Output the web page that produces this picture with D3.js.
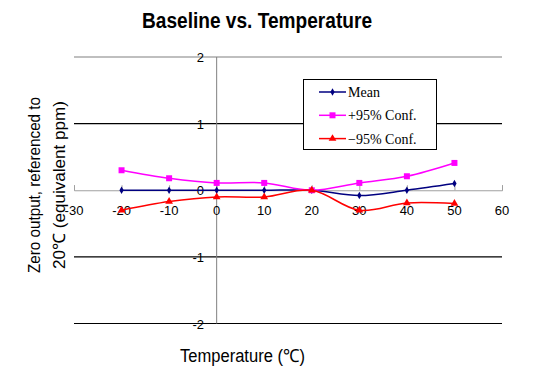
<!DOCTYPE html>
<html><head><meta charset="utf-8">
<script src="https://cdn.jsdelivr.net/npm/d3@7"></script>
<style>body{margin:0;background:#fff}svg{display:block}</style>
</head><body>
<svg id="c" width="540" height="373"></svg>
<script>
const temps = [-20, -10, 0, 10, 20, 30, 40, 50];
const meanVals = [0, 0, 0, 0, 0, -0.08, 0, 0.1];
const upperVals = [0.3, 0.18, 0.11, 0.11, 0, 0.11, 0.21, 0.41];
const lowerVals = [-0.3, -0.17, -0.1, -0.1, 0, -0.3, -0.19, -0.2];
const seriesNames = ["Mean", "+95% Conf.", "\u221295% Conf."];
const xTicks = [-30, -20, -10, 0, 10, 20, 30, 40, 50, 60];
const yTicks = [-2, -1, 0, 1, 2];

const svg = d3.select("#c");
const x = d3.scaleLinear().domain([-30, 60]).range([74, 502]);
const y = d3.scaleLinear().domain([-2, 2]).range([323.5, 57]);

// gridlines
svg.append("g").selectAll("line").data(yTicks.filter(d => d !== 0)).join("line")
  .attr("x1", x(-30)).attr("x2", x(60))
  .attr("y1", d => y(d)).attr("y2", d => y(d))
  .attr("stroke", d => d === 2 ? "#808080" : "#000").attr("stroke-width", 1.2);

// vertical axis at x=0
svg.append("line").attr("x1", x(0)).attr("x2", x(0)).attr("y1", y(2)).attr("y2", y(-2))
  .attr("stroke", "#808080").attr("stroke-width", 1);

// x axis at y=0
const xAxis = d3.axisTop(x).tickValues(xTicks).tickSize(5).tickFormat("");
const gx = svg.append("g").attr("transform", `translate(0,${y(0)})`).call(xAxis);
gx.select(".domain").attr("stroke", "#a0a0a0");
gx.selectAll(".tick line").attr("stroke", "#a0a0a0");

// x tick labels
svg.append("g").selectAll("text").data(xTicks).join("text")
  .attr("x", d => x(d)).attr("y", 215)
  .attr("text-anchor", "middle")
  .style("font-family", "Liberation Sans, Arial, sans-serif").style("font-size", "13px")
  .text(d => d);

// y tick labels
svg.append("g").selectAll("text").data(yTicks).join("text")
  .attr("x", 204).attr("y", d => y(d) + 5)
  .attr("text-anchor", "end")
  .style("font-family", "Liberation Sans, Arial, sans-serif").style("font-size", "13px")
  .text(d => d);

const series = [
  {name: seriesNames[0], vals: meanVals, color: "#000080", sym: d3.symbolDiamond, size: 16},
  {name: seriesNames[1], vals: upperVals, color: "#ff00ff", sym: d3.symbolSquare, size: 36},
  {name: seriesNames[2], vals: lowerVals, color: "#ff0000", sym: d3.symbolTriangle, size: 26}
];

const line = d3.line().x(d => x(d[0])).y(d => y(d[1])).curve(d3.curveCatmullRom.alpha(0.5));

series.forEach(s => {
  const pts = temps.map((t, i) => [t, s.vals[i]]);
  svg.append("path").datum(pts).attr("d", line)
    .attr("fill", "none").attr("stroke", s.color).attr("stroke-width", 1.5);
  svg.append("g").selectAll("path").data(pts).join("path")
    .attr("d", d3.symbol().type(s.sym).size(s.size))
    .attr("transform", d => `translate(${x(d[0])},${y(d[1])})`)
    .attr("fill", s.color);
});

// legend
const lg = svg.append("g");
lg.append("rect").attr("x", 303.5).attr("y", 79.5).attr("width", 133).attr("height", 70)
  .attr("fill", "#fff").attr("stroke", "#000").attr("stroke-width", 1);
series.forEach((s, i) => {
  const ly = 92 + i * 23.3;
  lg.append("line").attr("x1", 319).attr("x2", 346).attr("y1", ly).attr("y2", ly)
    .attr("stroke", s.color).attr("stroke-width", 1.5);
  lg.append("path").attr("d", d3.symbol().type(s.sym).size(s.size))
    .attr("transform", `translate(332.5,${ly})`).attr("fill", s.color);
  lg.append("text").attr("x", 348).attr("y", ly + 5)
    .style("font-family", "Liberation Serif, 'DejaVu Serif', serif").style("font-size", "14px")
    .text(s.name);
});

const narrow = "'Liberation Sans Narrow', 'Arial Narrow', 'Liberation Sans', sans-serif";

// title
svg.append("text").attr("x", 142).attr("y", 28)
  .attr("textLength", 230).attr("lengthAdjust", "spacingAndGlyphs")
  .style("font-family", narrow)
  .style("font-weight", "bold").style("font-size", "22px")
  .text("Baseline vs. Temperature");

// x title
svg.append("text").attr("x", 180).attr("y", 362)
  .attr("textLength", 125).attr("lengthAdjust", "spacingAndGlyphs")
  .style("font-family", narrow)
  .style("font-size", "18px")
  .text("Temperature (\u2103)");

// y title
const yt = svg.append("text").attr("transform", "translate(0,185) rotate(-90)")
  .style("font-family", narrow)
  .style("font-size", "17px");
yt.append("tspan").attr("x", -88).attr("y", 40)
  .attr("textLength", 176).attr("lengthAdjust", "spacingAndGlyphs")
  .text("Zero output, referenced to");
yt.append("tspan").attr("x", -84).attr("y", 65)
  .attr("textLength", 168).attr("lengthAdjust", "spacingAndGlyphs")
  .text("20\u2103 (equivalent ppm)");
</script>
</body></html>
